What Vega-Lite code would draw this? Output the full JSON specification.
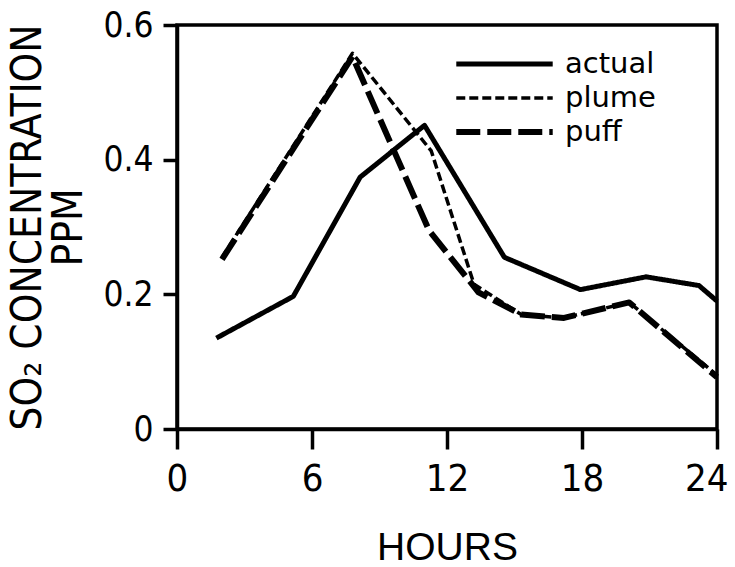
{
  "$schema": "https://vega.github.io/schema/vega-lite/v6.json",
  "width": 540,
  "height": 404,
  "autosize": {"type": "none"},
  "padding": {"left": 177, "top": 25, "right": 18, "bottom": 138},
  "background": "white",
  "config": {
    "view": {"stroke": "black", "strokeWidth": 3.5},
    "font": "Liberation Sans Narrow, DejaVu Sans Condensed, Liberation Sans, sans-serif",
    "axis": {
      "grid": false,
      "domainColor": "black",
      "domainWidth": 3.5,
      "tickColor": "black",
      "tickWidth": 3.5,
      "labelColor": "black",
      "titleColor": "black",
      "titleFontWeight": "normal",
      "labelFont": "Liberation Sans Narrow, DejaVu Sans Condensed, Liberation Sans, sans-serif",
      "titleFont": "Liberation Sans Narrow, DejaVu Sans Condensed, Liberation Sans, sans-serif"
    },
    "legend": {
      "labelFont": "DejaVu Sans, sans-serif"
    }
  },
  "data": {
    "values": [
      {"hour": 1.75, "ppm": 0.135, "series": "actual"},
      {"hour": 5.17, "ppm": 0.197, "series": "actual"},
      {"hour": 8.14, "ppm": 0.374, "series": "actual"},
      {"hour": 11.0, "ppm": 0.451, "series": "actual"},
      {"hour": 14.55, "ppm": 0.255, "series": "actual"},
      {"hour": 17.93, "ppm": 0.207, "series": "actual"},
      {"hour": 20.85, "ppm": 0.226, "series": "actual"},
      {"hour": 23.2, "ppm": 0.213, "series": "actual"},
      {"hour": 24.0, "ppm": 0.19, "series": "actual"},
      {"hour": 2.0, "ppm": 0.255, "series": "plume"},
      {"hour": 7.8, "ppm": 0.558, "series": "plume"},
      {"hour": 11.3, "ppm": 0.413, "series": "plume"},
      {"hour": 13.2, "ppm": 0.215, "series": "plume"},
      {"hour": 15.3, "ppm": 0.17, "series": "plume"},
      {"hour": 17.2, "ppm": 0.165, "series": "plume"},
      {"hour": 20.1, "ppm": 0.188, "series": "plume"},
      {"hour": 24.0, "ppm": 0.08, "series": "plume"},
      {"hour": 2.0, "ppm": 0.252, "series": "puff"},
      {"hour": 7.8, "ppm": 0.553, "series": "puff"},
      {"hour": 11.2, "ppm": 0.295, "series": "puff"},
      {"hour": 13.4, "ppm": 0.203, "series": "puff"},
      {"hour": 15.3, "ppm": 0.17, "series": "puff"},
      {"hour": 17.2, "ppm": 0.165, "series": "puff"},
      {"hour": 20.1, "ppm": 0.188, "series": "puff"},
      {"hour": 24.0, "ppm": 0.077, "series": "puff"}
    ]
  },
  "mark": {"type": "line", "color": "black", "strokeCap": "butt", "strokeJoin": "round"},
  "encoding": {
    "x": {
      "field": "hour",
      "type": "quantitative",
      "scale": {"domain": [0, 24], "nice": false, "zero": false},
      "axis": {
        "values": [0, 6, 12, 18, 24],
        "tickSize": 20,
        "labelFontSize": 38,
        "labelPadding": 11,
        "labelFlush": true,
        "labelFlushOffset": 11,
        "title": "HOURS",
        "titleFont": "Liberation Sans, sans-serif",
        "titleFontSize": 39,
        "titlePadding": 30
      }
    },
    "y": {
      "field": "ppm",
      "type": "quantitative",
      "scale": {"domain": [0, 0.6], "nice": false},
      "axis": {
        "values": [0, 0.2, 0.4, 0.6],
        "format": "~g",
        "tickSize": 14,
        "labelFontSize": 35,
        "labelPadding": 10,
        "labelFlush": false,
        "title": ["SO₂ CONCENTRATION", "PPM"],
        "titleFontSize": 42,
        "titleLineHeight": 41,
        "titlePadding": 12
      }
    },
    "strokeDash": {
      "field": "series",
      "type": "nominal",
      "scale": {"domain": ["actual", "plume", "puff"], "range": [[1, 0], [9, 4], [24, 7]]},
      "legend": {
        "title": null,
        "orient": "none",
        "legendX": 276,
        "legendY": 22,
        "padding": 0,
        "symbolType": "stroke",
        "symbolSize": 9300,
        "symbolStrokeColor": "black",
        "symbolStrokeWidth": 5,
        "clipHeight": 34,
        "rowPadding": 0,
        "labelFontSize": 29,
        "labelOffset": 9,
        "labelColor": "black"
      }
    },
    "strokeWidth": {
      "field": "series",
      "type": "nominal",
      "scale": {"type": "ordinal", "domain": ["actual", "plume", "puff"], "range": [5, 3.5, 6]},
      "legend": null
    }
  }
}
